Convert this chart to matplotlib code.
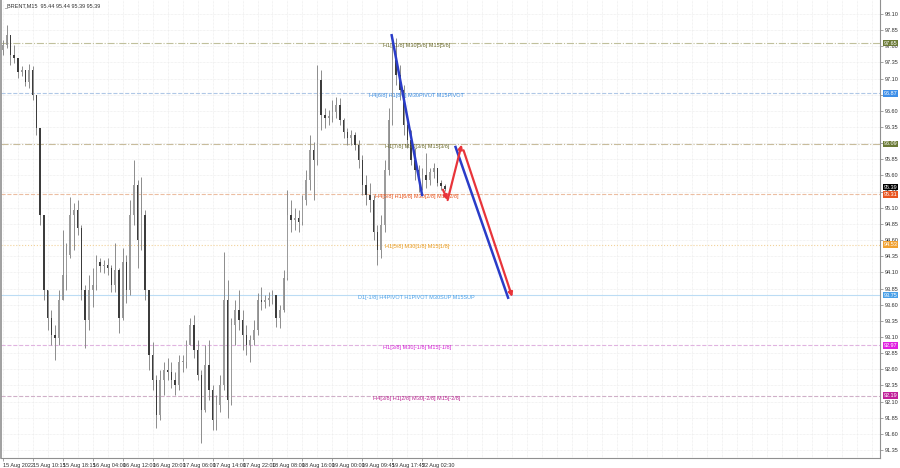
import matplotlib
matplotlib.use("Agg")
import matplotlib.pyplot as plt
import matplotlib.transforms as mtransforms
import numpy as np

plt.rcParams["font.family"] = ["Liberation Sans Narrow", "Liberation Sans", "DejaVu Sans"]

# --- data: 15-minute bars grouped by 4 (one candle = 1 hour) ---
first_open = 97.54
highs = [97.70, 97.93, 97.70, 97.62, 97.36, 97.30, 97.20, 97.33, 97.30, 96.85,
         96.34, 94.99, 93.83, 93.52, 93.29, 93.83, 94.76, 94.56, 95.27, 95.17,
         95.22, 94.84, 93.90, 94.06, 94.17, 94.37, 94.32, 94.29, 94.32, 94.21,
         94.56, 94.17, 94.48, 94.37, 95.22, 95.84, 95.53, 95.58, 95.07, 93.83,
         93.02, 92.51, 92.59, 92.71, 92.77, 92.71, 92.56, 92.82, 92.82, 93.05,
         93.39, 93.44, 93.05, 92.59, 92.98, 93.05, 92.36, 92.20, 92.51, 94.42,
         93.98, 93.39, 93.67, 93.83, 93.52, 93.29, 93.13, 93.36, 93.78, 93.87,
         93.75, 93.80, 93.83, 93.73, 93.60, 94.14, 95.38, 95.22, 95.10, 95.07,
         95.30, 95.69, 96.23, 96.12, 97.31, 97.23, 96.64, 96.61, 96.77, 96.82,
         96.80, 96.49, 96.34, 96.30, 96.27, 96.15, 95.92, 95.61, 95.48, 95.30,
         94.84, 94.99, 95.84, 96.64, 97.77, 97.73, 97.31, 97.00, 96.54, 96.30,
         96.03, 95.76, 95.72, 95.95, 95.72, 95.79, 95.69, 95.53, 95.47]
lows = [97.47, 97.57, 97.31, 97.34, 97.11, 97.14, 96.99, 96.95, 96.77, 96.23,
        94.84, 93.67, 93.21, 92.98, 92.74, 92.98, 93.67, 93.83, 94.32, 94.45,
        94.68, 93.67, 92.93, 93.21, 93.56, 93.83, 94.11, 94.09, 94.06, 93.80,
        93.80, 93.16, 93.36, 93.63, 93.75, 94.84, 94.17, 94.45, 93.67, 92.59,
        92.28, 91.69, 91.81, 92.20, 92.43, 92.31, 92.20, 92.28, 92.56, 92.62,
        92.98, 92.77, 92.43, 91.46, 91.94, 92.12, 91.66, 91.66, 91.94, 92.28,
        91.85, 92.05, 92.98, 93.21, 92.90, 92.82, 92.71, 92.98, 93.13, 93.52,
        93.55, 93.58, 93.61, 93.25, 93.24, 93.49, 93.98, 94.73, 94.76, 94.73,
        94.84, 95.14, 95.38, 95.22, 95.76, 96.30, 96.34, 96.38, 96.43, 96.49,
        96.38, 96.18, 96.07, 96.07, 95.99, 95.72, 95.30, 95.14, 95.03, 94.60,
        94.21, 94.32, 94.73, 95.61, 96.38, 97.00, 96.77, 96.23, 96.03, 95.76,
        95.53, 95.34, 95.38, 95.41, 95.45, 95.56, 95.44, 95.38, 95.36]
closes = [97.62, 97.77, 97.47, 97.42, 97.20, 97.23, 97.05, 97.23, 96.85, 96.34,
          94.99, 93.83, 93.39, 93.13, 93.08, 93.67, 94.06, 94.37, 94.99, 95.07,
          94.79, 93.83, 93.36, 93.83, 93.90, 94.26, 94.20, 94.21, 94.17, 93.90,
          94.14, 93.39, 94.26, 93.83, 94.99, 95.45, 94.60, 94.99, 93.83, 92.82,
          92.43, 91.89, 92.43, 92.59, 92.56, 92.43, 92.36, 92.71, 92.71, 92.98,
          93.29, 92.90, 92.51, 91.97, 92.67, 92.28, 91.81, 92.05, 92.36, 93.67,
          92.12, 93.29, 93.52, 93.36, 93.13, 92.98, 93.05, 93.21, 93.67, 93.64,
          93.67, 93.70, 93.75, 93.39, 93.52, 94.01, 94.99, 94.91, 94.94, 94.88,
          95.22, 95.53, 95.99, 95.84, 97.08, 96.54, 96.49, 96.52, 96.58, 96.69,
          96.46, 96.27, 96.18, 96.23, 96.07, 95.84, 95.45, 95.30, 95.22, 94.73,
          94.45, 94.84, 95.69, 96.46, 97.39, 97.16, 96.92, 96.38, 96.15, 95.84,
          95.69, 95.53, 95.61, 95.53, 95.65, 95.72, 95.48, 95.44, 95.39]

# Murrey-math style levels
level_prices = [97.65, 96.87, 96.09, 95.31, 94.53, 93.75, 92.97, 92.19]
level_texts = ["H1[+1/8] M30[5/8] M15[5/8]",
               "H4[6/8] H1[8/8] M30PIVOT M15PIVOT",
               "H1[7/8] M30[3/8] M15[3/8]",
               "H4[5/8] H1[6/8] M30[2/8] M15[2/8]",
               "H1[5/8] M30[1/8] M15[1/8]",
               "D1[-1/8] H4PIVOT H1PIVOT M30SUP M15SUP",
               "H1[3/8] M30[-1/8] M15[-1/8]",
               "H4[3/8] H1[2/8] M30[-2/8] M15[-2/8]"]
level_text_colors = ["#6b6b2e", "#3d8ee0", "#6b6b2e", "#e8541e",
                     "#e89a1e", "#4aa0e8", "#d322d3", "#b8228f"]
level_line_colors = ["#c0c09c", "#b0c8e6", "#c8bc9c", "#ecbea2",
                     "#f2d29a", "#bcdcf4", "#e0b4e0", "#cfb0c8"]
level_box_colors = ["#6b7a36", "#3d8ee8", "#6b7a36", "#e8541e",
                    "#f0a030", "#4aa0e8", "#e020e0", "#c0209a"]
level_styles = ["-.", "--", "-.", "--", ":", "-", "--", "--"]

current_price = 95.39

# projection lines: (bar, price) pairs
blue_path_1 = [(417, 97.79), (450, 95.28)]
blue_path_2 = [(485, 96.06), (542, 93.69)]
red_path_1 = [(472, 95.38), (477, 95.22)]
red_path_2 = [(477, 95.22), (492, 96.08)]
red_path_3 = [(494, 95.99), (546, 93.72)]

tick_labels_x = ["15 Aug 2022", "15 Aug 10:15", "15 Aug 18:15", "16 Aug 04:00",
                 "16 Aug 12:00", "16 Aug 20:00", "17 Aug 06:00", "17 Aug 14:00",
                 "17 Aug 22:00", "18 Aug 08:00", "18 Aug 16:00", "19 Aug 00:00",
                 "19 Aug 09:45", "19 Aug 17:45", "22 Aug 02:30"]

BARS_PER_CANDLE = 4
FS = 4.0

fig = plt.figure(figsize=(9, 4.68), dpi=100)
ax = fig.add_axes([0.001, 1 - 458 / 468, 880 / 900 - 0.001, 458 / 468])

n = len(closes)
opens = np.array([first_open] + closes[:-1])
c = np.array(closes)
h = np.maximum(np.array(highs), np.maximum(opens, c))
l = np.minimum(np.array(lows), np.minimum(opens, c))
x = np.arange(n) * BARS_PER_CANDLE + 2

ax.vlines(x, l, h, color="#8c8c8c", lw=0.7, zorder=3)
up = c >= opens
body_lo = np.minimum(opens, c)
body_h = np.maximum(np.abs(c - opens), 0.012)
ax.bar(x[up], body_h[up], bottom=body_lo[up], width=1.6, color="#9c9c9c",
       edgecolor="none", zorder=4)
ax.bar(x[~up], body_h[~up], bottom=body_lo[~up], width=1.6, color="#3c3c3c",
       edgecolor="none", zorder=4)

# axes ranges (pixel-matched)
px_per_bar = 0.9375
ax.set_xlim(0, 880 / px_per_bar)
ax.set_ylim(98.10 - 444 / 64.6, 98.10 + 14 / 64.6)

# grid
for gx in np.arange(2, 940, 16):
    ax.axvline(gx, color="#e8e8e8", lw=0.5, ls=(0, (1, 1)), zorder=0)
yticks = np.round(np.arange(91.35, 98.11, 0.25), 2)
for gy in yticks:
    ax.axhline(gy, color="#e8e8e8", lw=0.5, ls=(0, (1, 1)), zorder=0)

# level lines and labels
for p, t, tc, lc, st in zip(level_prices, level_texts, level_text_colors,
                            level_line_colors, level_styles):
    ax.axhline(p, color=lc, lw=0.8, ls=st, zorder=1)
    ax.text(444, p - 0.035, t, color=tc, fontsize=FS, ha="center", va="center",
            zorder=6)

# projection lines
for path in (blue_path_1, blue_path_2):
    (x0, y0), (x1, y1) = path
    ax.plot([x0, x1], [y0, y1], color="#2a3cc8", lw=1.8, zorder=7,
            solid_capstyle="butt")
for path in (red_path_1, red_path_2, red_path_3):
    (x0, y0), (x1, y1) = path
    ax.annotate("", xy=(x1, y1), xytext=(x0, y0), zorder=7,
                arrowprops=dict(arrowstyle="-|>", color="#e8343a", lw=1.6,
                                mutation_scale=6, shrinkA=0, shrinkB=0))

# axes cosmetics
ax.yaxis.tick_right()
ax.set_yticks(yticks)
ax.set_yticklabels([f"{v:.2f}" for v in yticks], fontsize=FS, color="#303030")
ax.set_xticks(np.arange(len(tick_labels_x)) * 32 + 2)
ax.set_xticklabels(tick_labels_x, fontsize=FS, color="#303030", ha="left")
ax.tick_params(axis="both", length=2, width=0.5, color="#808080", pad=1.5)
ax.spines["top"].set_visible(False)
ax.spines["left"].set_color("#909090")
ax.spines["left"].set_linewidth(1.2)
ax.spines["right"].set_color("#909090")
ax.spines["bottom"].set_color("#909090")
ax.spines["right"].set_linewidth(0.8)
ax.spines["bottom"].set_linewidth(0.8)

# price boxes on the right scale
trans = mtransforms.blended_transform_factory(ax.transAxes, ax.transData)
for p, bc in zip(level_prices, level_box_colors):
    ax.text(1.004, p, f"{p:.2f}", transform=trans, fontsize=FS, color="white",
            ha="left", va="center", clip_on=False, zorder=8,
            bbox=dict(boxstyle="square,pad=0.15", fc=bc, ec="none"))
ax.text(1.004, current_price + 0.03, f"{current_price:.2f}", transform=trans,
        fontsize=FS, color="white", ha="left", va="center", clip_on=False,
        zorder=9, bbox=dict(boxstyle="square,pad=0.15", fc="black", ec="none"))

ax.text(0.004, 0.993, "_BRENT,M15  95.44 95.44 95.39 95.39", transform=ax.transAxes,
        fontsize=FS, color="#303030", ha="left", va="top")

fig.savefig("out.png", dpi=100, facecolor="white")
